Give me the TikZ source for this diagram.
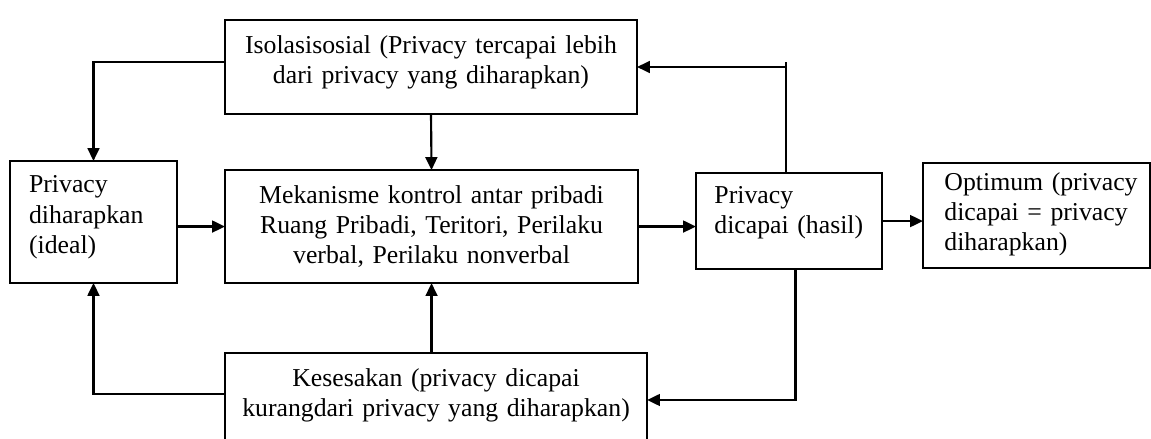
\documentclass[tikz,border=0pt]{standalone}
\usepackage{fontspec}
\setmainfont{Liberation Serif}
\usetikzlibrary{arrows.meta}

\begin{document}
\begin{tikzpicture}[x=0.466pt, y=-0.466pt,
	font=\fontsize{12}{14}\selectfont,
	kotak/.style={draw, line width=0.9pt, anchor=north west, inner ysep=0pt, outer sep=0pt},
	tengah/.style={kotak, align=center, inner xsep=0pt},
	kiri/.style={kotak, align=left, execute at begin node={\hyphenpenalty=10000\hbadness=10000\hfuzz=20pt}},
	panah/.style={line width=1pt, -{Triangle[length=6pt,width=5.5pt]}},
	garis/.style={line width=1pt}]
	\useasboundingbox (0,0) rectangle (1151,439);
	\clip (0,0) rectangle (1151,439);

	% kotak-kotak
	\node[tengah, text width=192pt, text height=15.4pt, text depth=28.4pt] (iso) at (225,20)
		{Isolasisosial (Privacy tercapai lebih\\dari privacy yang diharapkan)};
	\node[kiri, inner xsep=8.9pt, text width=60pt, text height=14.9pt, text depth=41.9pt] (ideal) at (10,161)
		{Privacy\\diharapkan\\(ideal)};
	\node[tengah, text width=192.5pt, text height=15.4pt, text depth=37.3pt] (mek) at (225,170)
		{Mekanisme kontrol antar pribadi\\Ruang Pribadi, Teritori, Perilaku\\verbal, Perilaku nonverbal};
	\node[kiri, inner xsep=8.6pt, text width=69.5pt, text height=14pt, text depth=30.8pt] (hasil) at (696,173)
		{Privacy\\dicapai~(hasil)};
	\node[kiri, inner xsep=10pt, text width=85.8pt, text height=13pt, text depth=35.9pt] (opt) at (923,163)
		{Optimum~(privacy\\dicapai = privacy\\diharapkan)};
	\node[tengah, text width=196.7pt, text height=15.4pt, text depth=28.4pt] (kes) at (225,353)
		{Kesesakan (privacy dicapai\\kurangdari privacy yang diharapkan)};

	% panah
	\draw[panah] ([yshift=2.3pt]iso.west) -| (ideal.north);
	\draw[panah] (iso.south) -- (mek.north);
	\draw[panah] (ideal.east |- mek.west) -- (mek.west);
	\draw[panah] (mek.east) -- (hasil.west |- mek.east);
	\draw[panah] (hasil.east) -- (opt.west |- hasil.east);
	\draw[garis] ([xshift=-1.4pt]hasil.north) -- ([xshift=-1.4pt, yshift=2.3pt]hasil.north |- iso.east);
	\draw[panah] ([xshift=-1.4pt]hasil.north |- iso.east) -- (iso.east);
	\draw[panah] ([xshift=3pt]hasil.south) |- (kes.east);
	\draw[panah] ([yshift=2.8pt]kes.west) -| (ideal.south);
	\draw[panah] (mek.south |- kes.north) -- (mek.south);
\end{tikzpicture}
\end{document}
